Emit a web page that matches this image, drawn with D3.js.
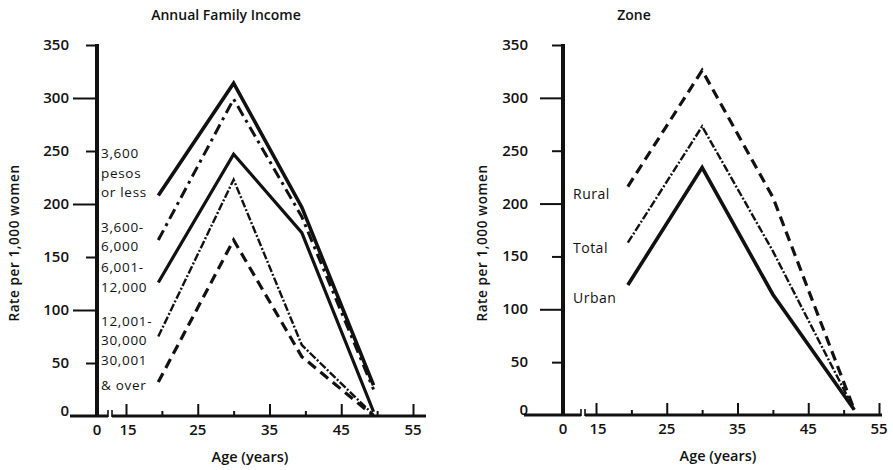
<!DOCTYPE html>
<html>
<head>
<meta charset="utf-8">
<script src="https://cdn.jsdelivr.net/npm/d3@7"></script>
<style>
  html, body { margin: 0; padding: 0; background: #fff; }
  svg { display: block; }
  text { font-family: "Open Sans", "DejaVu Sans", sans-serif; fill: #111; }
</style>
</head>
<body>
<svg id="chart" width="893" height="470"></svg>
<script>
// Age-specific fertility rates (per 1,000 women)
const incomeAges = [19.5, 30, 39.5, 49.5];
const incomeUpTo3600   = [208, 314, 197, 29];
const income3600to6000 = [166, 299, 188, 25];
const income6001to12000 = [126, 247, 173, 4];
const income12001to30000 = [75, 223, 67, 1];
const income30001plus  = [32, 166, 56, 0];

const zoneAges = [19.5, 30, 40, 51.5];
const zoneRural = [216, 326, 206, 5];
const zoneTotal = [163, 273, 155, 5];
const zoneUrban = [123, 234, 114, 5];

const yTicks = [0, 50, 100, 150, 200, 250, 300, 350];
const xMajorTicks = [0, 15, 25, 35, 45, 55];
const xMinorTicks = [20, 30, 40, 50];

const incomeLabels = [
  ["3,600", "pesos", "or less"],
  ["3,600-", "6,000"],
  ["6,001-", "12,000"],
  ["12,001-", "30,000"],
  ["30,001", "& over"]
];
const zoneLabels = ["Rural", "Total", "Urban"];

const svg = d3.select("#chart");
const INK = "#111";

// line styles
const styles = {
  solidHeavy: { w: 3.6, dash: null },
  solid:      { w: 3.2, dash: null },
  dashDot:    { w: 3.0, dash: "11,5,3,5" },
  thinDashDot:{ w: 2.4, dash: "8,2,2,2" },
  dashed:     { w: 3.2, dash: "10,6" }
};

function panel(opts) {
  const g = svg.append("g");
  const x = d3.scaleLinear().domain([0, 15, 55]).range([opts.x0, opts.x15, opts.x55]);
  const y = d3.scaleLinear().domain([0, 350]).range([opts.yBase, opts.yTop]);

  // title
  g.append("text").attr("x", opts.titleX).attr("y", 20)
    .attr("text-anchor", "middle").style("font-size", "14px").style("font-weight", 600)
    .text(opts.title);

  // y axis title
  g.append("text")
    .attr("transform", `translate(${opts.yTitleX},${opts.yTitleY}) rotate(-90)`)
    .attr("text-anchor", "middle").style("font-size", "13.5px").style("font-weight", 600)
    .style("letter-spacing", "0.6px")
    .text("Rate per 1,000 women");

  // y axis
  const yAxis = d3.axisLeft(y).tickValues(yTicks).tickSizeOuter(0).tickPadding(0);
  const ya = g.append("g").attr("transform", `translate(${opts.x0},0)`).call(yAxis);
  ya.select(".domain").remove();
  ya.selectAll(".tick line")
    .attr("x2", d => (d % 100 === 0 && d !== 0 && d !== 350) ? -opts.longTick : (d === 0 ? 0 : -opts.shortTick))
    .attr("stroke", INK).attr("stroke-width", 2);
  ya.selectAll(".tick text")
    .attr("x", opts.yLabelRight - opts.x0).attr("dy", d => d === 0 ? "-0.05em" : "0.3em")
    .attr("fill", INK).style("font-size", "15px").style("font-family", "'Open Sans', sans-serif")
    .style("font-weight", 600);
  g.append("line").attr("x1", opts.x0).attr("x2", opts.x0)
    .attr("y1", y(350) - 1).attr("y2", opts.yBase)
    .attr("stroke", INK).attr("stroke-width", 4);

  // x axis baseline with a break between 0 and 15
  const axisY = opts.yBase;
  g.append("line").attr("x1", opts.axisStart).attr("x2", opts.breakX)
    .attr("y1", axisY).attr("y2", axisY).attr("stroke", INK).attr("stroke-width", 3);
  g.append("line").attr("x1", opts.breakX + 4).attr("x2", opts.axisEnd)
    .attr("y1", axisY).attr("y2", axisY).attr("stroke", INK).attr("stroke-width", 3);
  [opts.breakX, opts.breakX + 4].forEach(bx => {
    g.append("line").attr("x1", bx).attr("x2", bx)
      .attr("y1", axisY + 1).attr("y2", axisY - 6).attr("stroke", INK).attr("stroke-width", 1.6);
  });

  const xAxis = d3.axisTop(x).tickValues(xMajorTicks.filter(d => d > 0)).tickSize(12).tickFormat("");
  const xa = g.append("g").attr("transform", `translate(0,${axisY})`).call(xAxis);
  xa.select(".domain").remove();
  xa.selectAll(".tick line").attr("stroke", INK).attr("stroke-width", 2);
  const xMinor = d3.axisTop(x).tickValues(xMinorTicks).tickSize(5).tickFormat("");
  const xm = g.append("g").attr("transform", `translate(0,${axisY})`).call(xMinor);
  xm.select(".domain").remove();
  xm.selectAll(".tick line").attr("stroke", INK).attr("stroke-width", 2);

  // x tick labels
  g.selectAll(".xl").data(xMajorTicks).enter().append("text")
    .attr("x", d => x(d) + (d === 15 ? 2 : 0)).attr("y", axisY + 19)
    .attr("text-anchor", "middle").style("font-size", "15px").style("font-weight", 600)
    .text(d => d);

  g.append("text").attr("x", opts.xTitleX).attr("y", axisY + 46)
    .attr("text-anchor", "middle").style("font-size", "14.5px").style("font-weight", 600)
    .text("Age (years)");

  const line = d3.line().x(d => x(d[0])).y(d => y(d[1]));
  opts.series.forEach(s => {
    g.append("path")
      .attr("d", line(opts.ages.map((a, i) => [a, s.values[i]])))
      .attr("fill", "none").attr("stroke", INK)
      .attr("stroke-width", s.style.w)
      .attr("stroke-dasharray", s.style.dash)
      .attr("stroke-linejoin", "miter");
  });
  return { g, x, y };
}

const left = panel({
  title: "Annual Family Income", titleX: 226,
  x0: 97, x15: 126, x55: 413, yBase: 416, yTop: 45,
  axisStart: 70, axisEnd: 426, breakX: 108,
  longTick: 24, shortTick: 11, yLabelRight: 69,
  yTitleX: 19, yTitleY: 243, xTitleX: 250,
  ages: incomeAges,
  series: [
    { values: incomeUpTo3600, style: styles.solidHeavy },
    { values: income3600to6000, style: styles.dashDot },
    { values: income6001to12000, style: styles.solid },
    { values: income12001to30000, style: styles.thinDashDot },
    { values: income30001plus, style: styles.dashed }
  ]
});

const right = panel({
  title: "Zone", titleX: 634,
  x0: 563, x15: 596, x55: 879, yBase: 415, yTop: 45,
  axisStart: 524, axisEnd: 882, breakX: 581,
  longTick: 23, shortTick: 11, yLabelRight: 528,
  yTitleX: 487, yTitleY: 243, xTitleX: 718,
  ages: zoneAges,
  series: [
    { values: zoneRural, style: styles.dashed },
    { values: zoneTotal, style: styles.thinDashDot },
    { values: zoneUrban, style: styles.solidHeavy }
  ]
});

// group labels beside the line starts
const incomeLabelY = [[153, 173, 192], [227, 246], [267, 287], [321, 340], [360, 385]];
incomeLabels.forEach((lines, i) => {
  lines.forEach((t, j) => {
    left.g.append("text").attr("x", 101).attr("y", incomeLabelY[i][j])
      .attr("dominant-baseline", "central").style("font-size", "13.5px")
      .style("letter-spacing", "0.7px")
      .text(t);
  });
});

const zoneLabelY = [193, 247, 297];
zoneLabels.forEach((t, i) => {
  right.g.append("text").attr("x", 573).attr("y", zoneLabelY[i])
    .attr("dominant-baseline", "central").style("font-size", "14px")
    .style("letter-spacing", "0.5px")
    .text(t);
});
</script>
</body>
</html>
